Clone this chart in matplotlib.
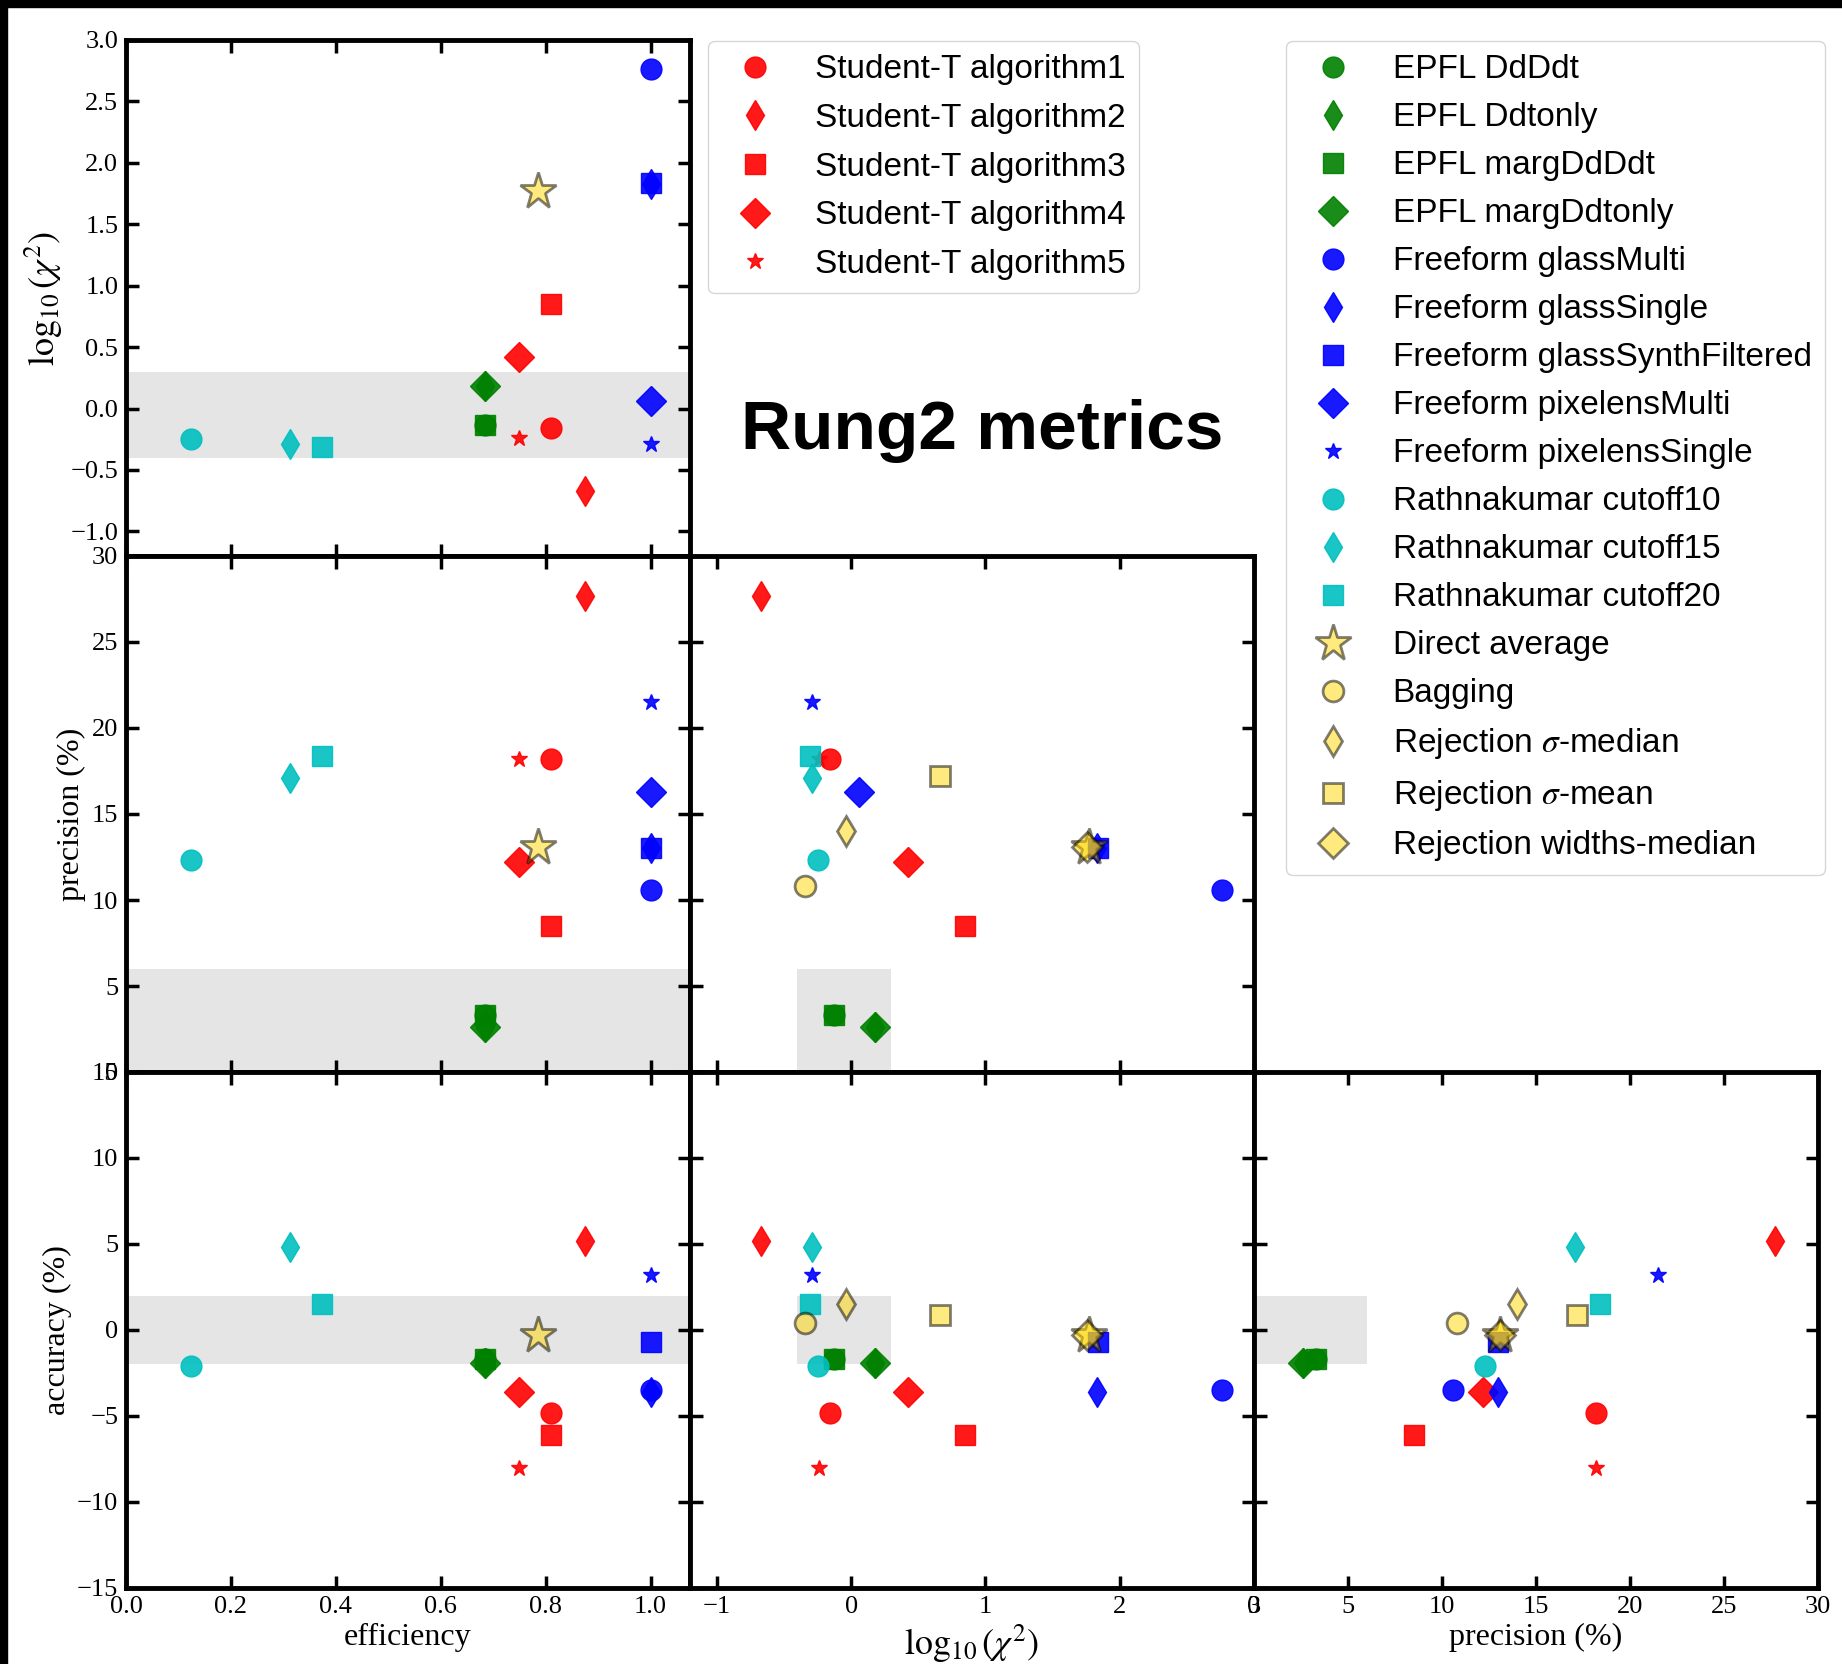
import numpy as np
import matplotlib.pyplot as plt
from matplotlib.patches import Rectangle

plt.rcParams['font.family'] = 'serif'
plt.rcParams['font.serif'] = ['Liberation Serif', 'DejaVu Serif']
plt.rcParams['mathtext.fontset'] = 'stix'

nan = np.nan

labels = ['Student-T algorithm1', 'Student-T algorithm2', 'Student-T algorithm3',
          'Student-T algorithm4', 'Student-T algorithm5',
          'EPFL DdDdt', 'EPFL Ddtonly', 'EPFL margDdDdt', 'EPFL margDdtonly',
          'Freeform glassMulti', 'Freeform glassSingle', 'Freeform glassSynthFiltered',
          'Freeform pixelensMulti', 'Freeform pixelensSingle',
          'Rathnakumar cutoff10', 'Rathnakumar cutoff15', 'Rathnakumar cutoff20',
          'Direct average', 'Bagging', r'Rejection $\sigma$-median',
          r'Rejection $\sigma$-mean', 'Rejection widths-median']

efficiency = [0.81, 0.875, 0.81, 0.75, 0.75,
              0.685, 0.685, 0.685, 0.685,
              1.0, 1.0, 1.0, 1.0, 1.0,
              0.123, 0.313, 0.373,
              0.785, nan, nan, nan, nan]
log_chi2 = [-0.16, -0.67, 0.85, 0.42, -0.24,
            -0.13, 0.18, -0.13, 0.18,
            2.76, 1.83, 1.84, 0.06, -0.29,
            -0.25, -0.29, -0.31,
            1.77, -0.34, -0.04, 0.66, 1.76]
precision = [18.2, 27.7, 8.5, 12.2, 18.2,
             3.3, 2.6, 3.3, 2.6,
             10.6, 13.0, 13.0, 16.3, 21.5,
             12.3, 17.1, 18.4,
             13.1, 10.8, 14.0, 17.2, 13.1]
accuracy = [-4.8, 5.2, -6.1, -3.6, -8.0,
            -1.7, -1.9, -1.7, -1.9,
            -3.5, -3.6, -0.7, nan, 3.2,
            -2.1, 4.8, 1.5,
            -0.3, 0.4, 1.5, 0.9, -0.3]

colors = ['r'] * 5 + ['g'] * 4 + ['b'] * 5 + ['c'] * 3 + ['gold'] * 5
markers = ['o', 'd', 's', 'D', '*',
           'o', 'd', 's', 'D',
           'o', 'd', 's', 'D', '*',
           'o', 'd', 's',
           '*', 'o', 'd', 's', 'D']

metrics = {'eff': efficiency, 'chi2': log_chi2, 'prec': precision, 'acc': accuracy}
limits = {'eff': (0, 1.075), 'chi2': (-1.2, 3.0), 'prec': (0, 30), 'acc': (-15, 15)}
names = {'eff': 'efficiency', 'chi2': r'$\log_{10}(\chi^2)$',
         'prec': 'precision (%)', 'acc': 'accuracy (%)'}
label_size = {'eff': 23, 'chi2': 26, 'prec': 23, 'acc': 23}
# "good" ranges shaded in grey
good = {'eff': None, 'chi2': (-0.4, 0.3), 'prec': (0, 6), 'acc': (-2, 2)}

fig = plt.figure(figsize=(18.42, 16.64), dpi=100)
fig.patches.append(Rectangle((0, 1 - 7 / 1664.), 1, 7 / 1664., transform=fig.transFigure,
                             color='k', zorder=-10))
fig.patches.append(Rectangle((0, 0), 7 / 1842., 1, transform=fig.transFigure,
                             color='k', zorder=-10))

x0 = 126 / 1842.
w = (1818 - 126) / 1842. / 3
top = 1 - 40 / 1664.
bot = 1 - 1588 / 1664.
h = (top - bot) / 3

panels = [(0, 0, 'eff', 'chi2'),
          (1, 0, 'eff', 'prec'), (1, 1, 'chi2', 'prec'),
          (2, 0, 'eff', 'acc'), (2, 1, 'chi2', 'acc'), (2, 2, 'prec', 'acc')]

handles = None
for row, col, xk, yk in panels:
    ax = fig.add_axes([x0 + col * w, top - (row + 1) * h, w, h])
    xs = metrics[xk]
    ys = metrics[yk]
    gx = good[xk] if good[xk] is not None else limits[xk]
    gy = good[yk]
    ax.add_patch(Rectangle((gx[0], gy[0]), gx[1] - gx[0], gy[1] - gy[0],
                           color='0.5', alpha=0.2, lw=0, zorder=0))
    lines = []
    for i in range(len(labels)):
        if colors[i] == 'gold':
            ms = 28 if markers[i] == '*' else 15
            l, = ax.plot(xs[i], ys[i], markers[i], color='gold', mec='k', mew=2,
                         alpha=0.5, ms=ms, label=labels[i])
        else:
            ms = 12 if markers[i] == '*' else 15
            l, = ax.plot(xs[i], ys[i], markers[i], color=colors[i], alpha=0.9,
                         ms=ms, label=labels[i])
        lines.append(l)
    handles = lines
    ax.set_xlim(limits[xk])
    ax.set_ylim(limits[yk])
    ax.tick_params(direction='in', length=9, width=2.5, top=True, right=True,
                   labelsize=19, pad=5.5)
    for s in ax.spines.values():
        s.set_linewidth(3.5)
    if col == 0:
        ax.set_ylabel(names[yk], fontsize=label_size[yk])
    else:
        ax.set_yticklabels([])
    if row == 2:
        ax.set_xlabel(names[xk], fontsize=label_size[xk])
    else:
        ax.set_xticklabels([])

leg_font = {'family': 'Liberation Sans', 'size': 24}
leg1 = fig.legend(handles[:5], labels[:5], loc='upper left',
                  bbox_to_anchor=(708 / 1842., 1 - 41 / 1664.), borderaxespad=0,
                  numpoints=1, prop=leg_font, labelspacing=0.53, handletextpad=0.8)
leg2 = fig.legend(handles[5:], labels[5:], loc='upper left',
                  bbox_to_anchor=(1286 / 1842., 1 - 41 / 1664.), borderaxespad=0,
                  numpoints=1, prop=leg_font, labelspacing=0.51, handletextpad=0.8)

fig.text(982 / 1842., 1 - 431 / 1664., 'Rung2 metrics', ha='center', va='center',
         fontsize=50, fontweight='bold', family='Liberation Sans')

fig.savefig('out.png', dpi=100)
